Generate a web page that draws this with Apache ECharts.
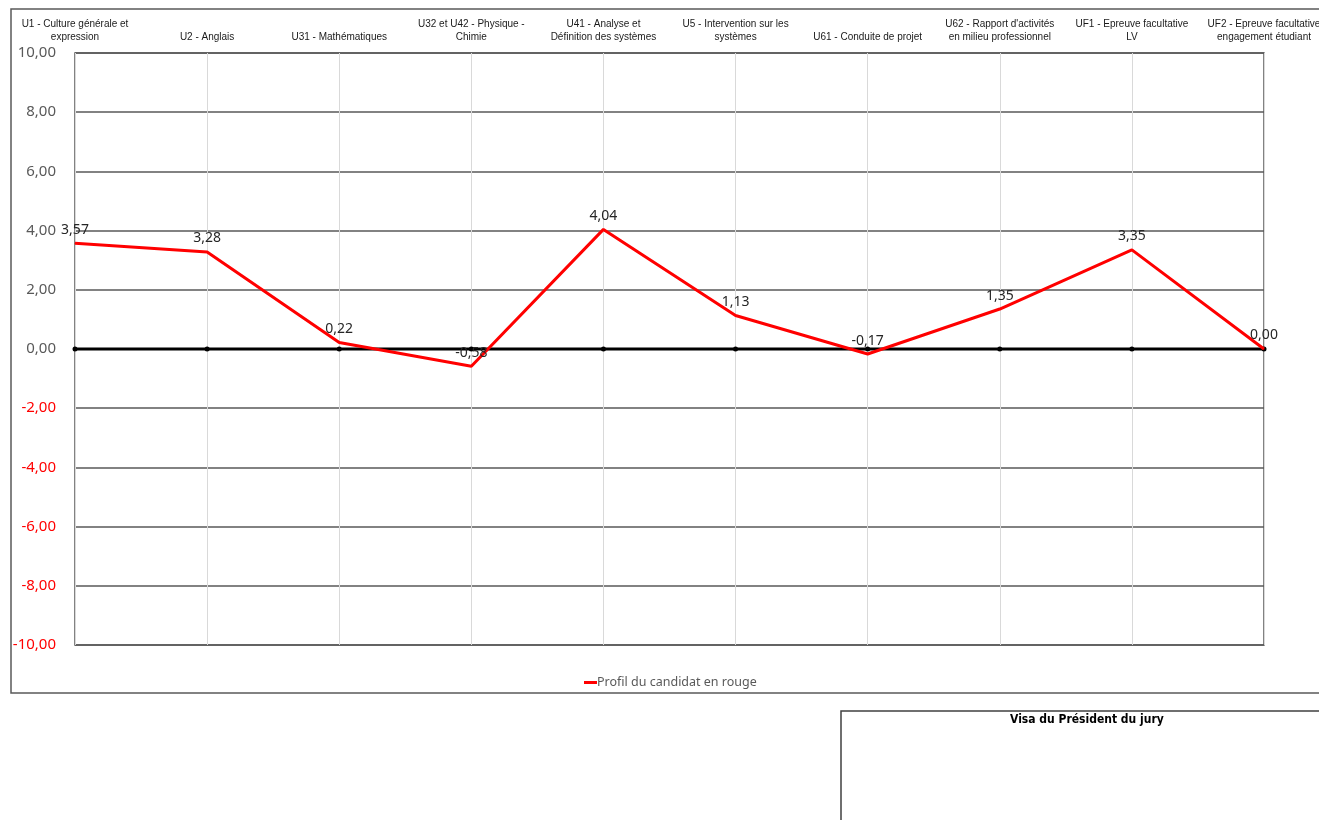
<!DOCTYPE html>
<html>
<head>
<meta charset="utf-8">
<script src="https://cdn.jsdelivr.net/npm/echarts@6/dist/echarts.min.js"></script>
<style>
html,body{margin:0;padding:0;background:#fff;}
#chart{width:1319px;height:820px;}
</style>
</head>
<body>
<div id="chart"></div>
<script>
const categories = [
  "U1 - Culture générale et\nexpression",
  "U2 - Anglais",
  "U31 - Mathématiques",
  "U32 et U42 - Physique -\nChimie",
  "U41 - Analyse et\nDéfinition des systèmes",
  "U5 - Intervention sur les\nsystèmes",
  "U61 - Conduite de projet",
  "U62 - Rapport d'activités\nen milieu professionnel",
  "UF1 - Epreuve facultative\nLV",
  "UF2 - Epreuve facultative\nengagement étudiant"
];
const profileValues = [3.57, 3.28, 0.22, -0.58, 4.04, 1.13, -0.17, 1.35, 3.35, 0.00];
const referenceValues = [0, 0, 0, 0, 0, 0, 0, 0, 0, 0];
const seriesName = "Profil du candidat en rouge";
const yMin = -10, yMax = 10, yStep = 2;

const fmt = v => Number(v).toFixed(2).replace('.', ',');

const chart = echarts.init(document.getElementById('chart'));
chart.setOption({
  animation: false,
  backgroundColor: '#fff',
  grid: {
    left: 75, top: 53, right: 55, bottom: 175,
    outerBoundsMode: 'none',
    containLabel: false,
    show: true, borderColor: '#595959', borderWidth: 1.5
  },
  legend: {
    data: [seriesName],
    top: 671,
    left: 579,
    icon: 'rect',
    itemWidth: 13,
    itemHeight: 3,
    itemGap: 10,
    textStyle: { color: '#595959', fontSize: 12.5, fontFamily: 'Noto Sans', padding: [0, 0, 0, -5] }
  },
  xAxis: {
    type: 'category',
    position: 'top',
    data: categories,
    boundaryGap: false,
    axisLine: { show: false },
    axisTick: { show: false },
    axisLabel: {
      interval: 0,
      margin: 9,
      fontSize: 10,
      lineHeight: 13,
      fontFamily: 'Liberation Sans',
      color: '#1a1a1a',
      hideOverlap: false
    },
    splitLine: { show: true, lineStyle: { color: '#d9d9d9', width: 1 } }
  },
  yAxis: {
    type: 'value',
    min: yMin, max: yMax, interval: yStep,
    axisLine: { show: false },
    axisTick: { show: false },
    axisLabel: {
      margin: 19,
      fontSize: 15,
      fontFamily: 'Noto Sans',
      formatter: v => fmt(v),
      color: v => (v < 0 ? '#ff0000' : '#595959')
    },
    splitLine: { show: true, lineStyle: { color: '#595959', width: 1.5 } }
  },
  series: [
    {
      name: 'Référence',
      type: 'line',
      data: referenceValues,
      symbol: 'circle',
      symbolSize: 5,
      itemStyle: { color: '#000' },
      lineStyle: { color: '#000', width: 3 },
      z: 2,
      silent: true
    },
    {
      name: seriesName,
      type: 'line',
      data: profileValues,
      symbol: 'circle',
      symbolSize: 1,
      showSymbol: true,
      itemStyle: { color: '#ff0000' },
      lineStyle: { color: '#ff0000', width: 3 },
      z: 3,
      labelLayout: { hideOverlap: false },
      label: {
        show: true,
        position: 'top',
        distance: 6,
        fontSize: 14,
        fontFamily: 'Noto Sans',
        color: '#262626',
        formatter: p => fmt(p.value)
      }
    }
  ],
  graphic: [
    {
      type: 'rect',
      shape: { x: 11, y: 9, width: 1330, height: 684 },
      style: { fill: 'none', stroke: '#595959', lineWidth: 1.5 },
      silent: true, z: -1
    },
    {
      type: 'rect',
      shape: { x: 841, y: 711, width: 500, height: 130 },
      style: { fill: 'none', stroke: '#404040', lineWidth: 1.5 },
      silent: true
    },
    {
      type: 'text',
      left: 1010, top: 714,
      style: { text: 'Visa du Président du jury', fontSize: 12, fontWeight: 'bold', fontFamily: 'DejaVu Sans Condensed, Liberation Sans', fill: '#000' }
    }
  ]
});
</script>
</body>
</html>
